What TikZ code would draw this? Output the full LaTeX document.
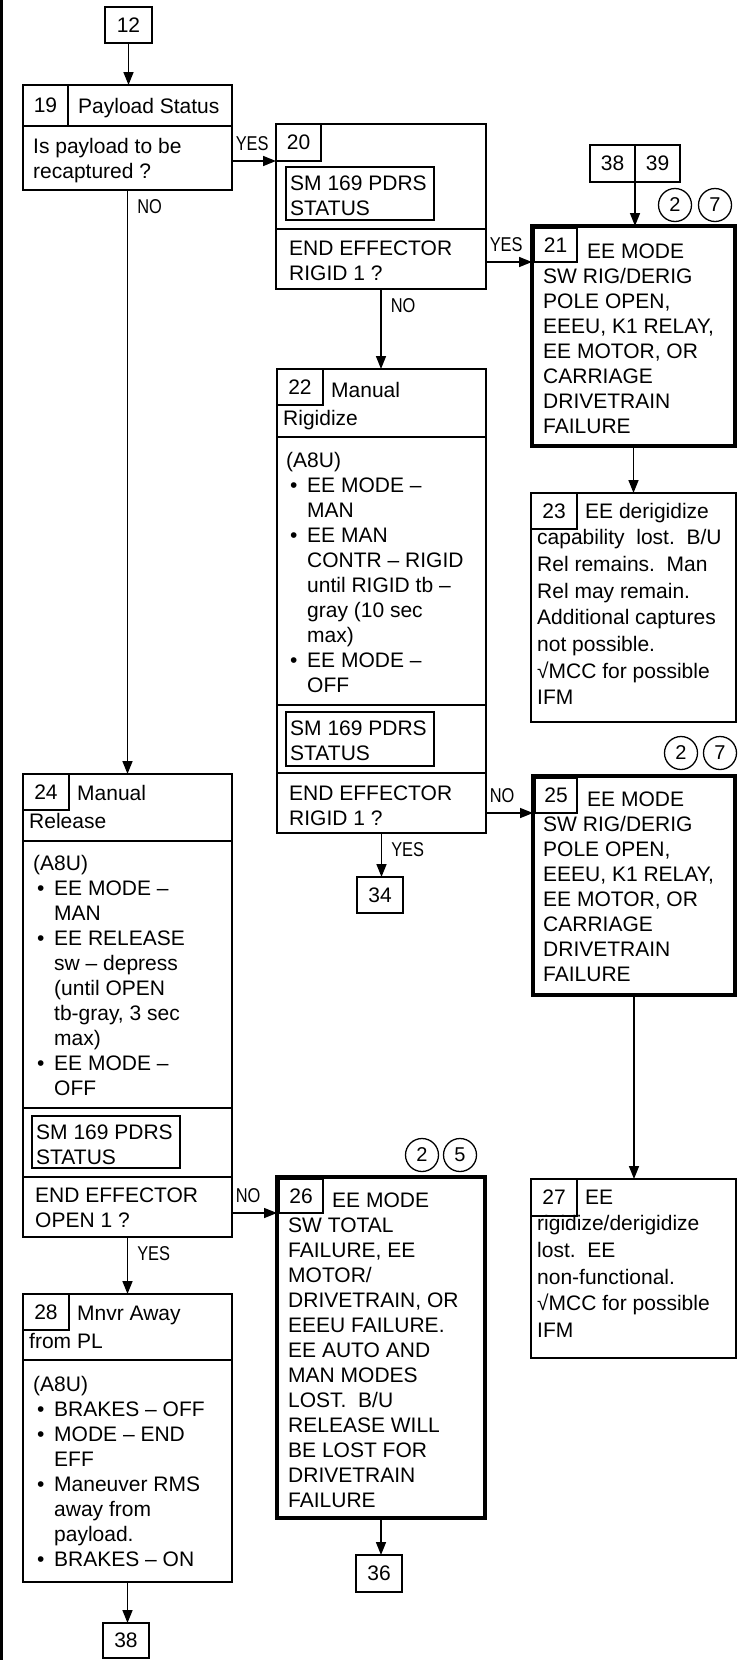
\documentclass[tikz,border=0pt]{standalone}
\usepackage{graphicx}
\usepackage{fontspec}
\setmainfont{Liberation Sans}
\usetikzlibrary{arrows.meta}

\newcommand\bitem{\hspace*{4pt}\makebox[17pt][l]{\textbullet}}
\newcommand\bcont{\hspace*{21pt}}
\newcommand\yn[1]{\scalebox{0.82}[1]{#1}}
\newcommand\textlines[1]{\begin{tabular}[t]{@{}l@{}}#1\end{tabular}}

\tikzset{
  frame/.style={draw, line width=1.5pt, inner sep=0pt, outer sep=0pt, anchor=north west,
    font=\fontsize{21}{25}\selectfont},
  heavyframe/.style={frame, line width=4pt},
  divider/.style={line width=1.5pt},
  blurb/.style={anchor=base west, inner sep=0pt, font=\fontsize{21}{25}\selectfont},
  blurbloose/.style={blurb, font=\fontsize{21}{26.7}\selectfont},
  headblurb/.style={blurb, font=\fontsize{21}{28}\selectfont},
  answer/.style={anchor=base west, inner sep=0pt, font=\fontsize{20}{20}\selectfont},
  sideans/.style={answer, xshift=3pt, yshift=11pt},
  downans/.style={answer, xshift=9pt, yshift=-23pt},
  note/.style={circle, draw, line width=1.3pt, minimum size=33pt, inner sep=0pt,
    font=\fontsize{20}{20}\selectfont},
  flow/.style={line width=1.5pt, -{Triangle[length=13pt,width=10pt]}},
}

\begin{document}
\begin{tikzpicture}[x=1pt, y=-1pt]
\useasboundingbox (0,0) rectangle (737,1660);
\draw[line width=3pt] (1.5,0) -- (1.5,1660);

% entry and payload status
\node[frame, minimum width=47pt, minimum height=36pt] (b12) at (105,7) {12};
\node[frame, minimum width=209pt, minimum height=105pt] (b19) at (23,85) {};
\node[frame, minimum width=45pt, minimum height=41pt] (n19) at (23,85) {19};
\draw[divider] (b19.west |- n19.south) -- (b19.east |- n19.south);
\node[blurb] at (78,113) {Payload Status};
\node[blurb] at (33,153) {\textlines{Is payload to be\\recaptured ?}};

% 20
\node[frame, minimum width=210pt, minimum height=165pt] (b20) at (276,124) {};
\node[frame, minimum width=45pt, minimum height=37pt] (n20) at (276,124) {20};
\node[frame, minimum width=148pt, minimum height=53pt] (s20) at (286,167) {};
\node[blurb] at (290,190) {\textlines{SM 169 PDRS\\STATUS}};
\draw[divider] (b20.west |- 0,229) -- (b20.east |- 0,229);
\node[blurb] at (289,255) {\textlines{END EFFECTOR\\RIGID 1 ?}};

% 21
\node[frame, minimum width=45pt, minimum height=37pt] (r38) at (590,145) {38};
\node[frame, minimum width=45pt, minimum height=37pt] (r39) at (635,145) {39};
\node[note] (c21a) at (675,205) {2};
\node[note] (c21b) at (715,205) {7};
\node[heavyframe, minimum width=203pt, minimum height=220pt] (b21) at (532,226) {};
\node[frame, minimum width=43pt, minimum height=34pt] (n21) at (534,228) {21};
\node[blurb] at (543,258) {\textlines{\hspace*{44pt}EE MODE\\SW RIG/DERIG\\POLE OPEN,\\EEEU, K1 RELAY,\\EE MOTOR, OR\\CARRIAGE\\DRIVETRAIN\\FAILURE}};

% 23
\node[frame, minimum width=205pt, minimum height=229pt] (b23) at (531,493) {};
\node[frame, minimum width=46pt, minimum height=36pt] (n23) at (531,493) {23};
\node[blurbloose] at (537,518) {\textlines{\hspace*{48pt}EE derigidize\\capability\ \ lost.\ \ B/U\\Rel remains.\ \ Man\\Rel may remain.\\Additional captures\\not possible.\\√MCC for possible\\IFM}};

% 22
\node[frame, minimum width=209pt, minimum height=464pt] (b22) at (277,369) {};
\node[frame, minimum width=46pt, minimum height=36pt] (n22) at (277,369) {22};
\node[headblurb] at (283,397) {\textlines{\hspace*{48pt}Manual\\Rigidize}};
\draw[divider] (b22.west |- 0,437) -- (b22.east |- 0,437);
\node[blurb] at (286,467) {\textlines{(A8U)\\\bitem EE MODE –\\\bcont MAN\\\bitem EE MAN\\\bcont CONTR – RIGID\\\bcont until RIGID tb –\\\bcont gray (10 sec\\\bcont max)\\\bitem EE MODE –\\\bcont OFF}};
\draw[divider] (b22.west |- 0,705) -- (b22.east |- 0,705);
\node[frame, minimum width=148pt, minimum height=54pt] (s22) at (286,712) {};
\node[blurb] at (290,735) {\textlines{SM 169 PDRS\\STATUS}};
\draw[divider] (b22.west |- 0,773) -- (b22.east |- 0,773);
\node[blurb] at (289,800) {\textlines{END EFFECTOR\\RIGID 1 ?}};
\node[frame, minimum width=46pt, minimum height=36pt] (b34) at (357,877) {34};

% 25
\node[note] (c25a) at (681,753) {2};
\node[note] (c25b) at (720,753) {7};
\node[heavyframe, minimum width=202pt, minimum height=219pt] (b25) at (533,776) {};
\node[frame, minimum width=42pt, minimum height=35pt] (n25) at (535,778) {25};
\node[blurb] at (543,806) {\textlines{\hspace*{44pt}EE MODE\\SW RIG/DERIG\\POLE OPEN,\\EEEU, K1 RELAY,\\EE MOTOR, OR\\CARRIAGE\\DRIVETRAIN\\FAILURE}};

% 27
\node[frame, minimum width=205pt, minimum height=179pt] (b27) at (531,1179) {};
\node[frame, minimum width=46pt, minimum height=37pt] (n27) at (531,1179) {27};
\node[blurbloose] at (537,1204) {\textlines{\hspace*{48pt}EE\\rigidize/derigidize\\lost.\ \ EE\\non-functional.\\√MCC for possible\\IFM}};

% 24
\node[frame, minimum width=209pt, minimum height=463pt] (b24) at (23,774) {};
\node[frame, minimum width=46pt, minimum height=36pt] (n24) at (23,774) {24};
\node[headblurb] at (29,800) {\textlines{\hspace*{48pt}Manual\\Release}};
\draw[divider] (b24.west |- 0,841) -- (b24.east |- 0,841);
\node[blurb] at (33,870) {\textlines{(A8U)\\\bitem EE MODE –\\\bcont MAN\\\bitem EE RELEASE\\\bcont sw – depress\\\bcont (until OPEN\\\bcont tb-gray, 3 sec\\\bcont max)\\\bitem EE MODE –\\\bcont OFF}};
\draw[divider] (b24.west |- 0,1108) -- (b24.east |- 0,1108);
\node[frame, minimum width=148pt, minimum height=52pt] (s24) at (32,1116) {};
\node[blurb] at (36,1139) {\textlines{SM 169 PDRS\\STATUS}};
\draw[divider] (b24.west |- 0,1177) -- (b24.east |- 0,1177);
\node[blurb] at (35,1202) {\textlines{END EFFECTOR\\OPEN 1 ?}};

% 26
\node[note] (c26a) at (422,1155) {2};
\node[note] (c26b) at (460,1155) {5};
\node[heavyframe, minimum width=208pt, minimum height=341pt] (b26) at (277,1177) {};
\node[frame, minimum width=44pt, minimum height=34pt] (n26) at (279,1179) {26};
\node[blurb] at (288,1207) {\textlines{\hspace*{44pt}EE MODE\\SW TOTAL\\FAILURE, EE\\MOTOR/\\DRIVETRAIN, OR\\EEEU FAILURE.\\EE AUTO AND\\MAN MODES\\LOST.\ \ B/U\\RELEASE WILL\\BE LOST FOR\\DRIVETRAIN\\FAILURE}};
\node[frame, minimum width=46pt, minimum height=37pt] (b36) at (356,1555) {36};

% 28
\node[frame, minimum width=209pt, minimum height=288pt] (b28) at (23,1294) {};
\node[frame, minimum width=46pt, minimum height=36pt] (n28) at (23,1294) {28};
\node[headblurb] at (29,1320) {\textlines{\hspace*{48pt}Mnvr Away\\from PL}};
\draw[divider] (b28.west |- 0,1360) -- (b28.east |- 0,1360);
\node[blurb] at (33,1391) {\textlines{(A8U)\\\bitem BRAKES – OFF\\\bitem MODE – END\\\bcont EFF\\\bitem Maneuver RMS\\\bcont away from\\\bcont payload.\\\bitem BRAKES – ON}};
\node[frame, minimum width=46pt, minimum height=35pt] (b38) at (103,1623) {38};

% connectors
\draw[flow] (b12.south) -- (b12.south |- b19.north);
\draw[flow] (b19.east |- n20.south) node[sideans] {\yn{YES}} -- (n20.south west);
\draw[flow] (b19.south) node[downans] {\yn{NO}} -- (b24.north);
\draw[flow] (b20.east |- n21.south) node[sideans] {\yn{YES}} -- (b21.west |- n21.south);
\draw[flow] (b20.south) node[downans] {\yn{NO}} -- (b20.south |- b22.north);
\draw[flow] (r38.south east) -- (r38.south east |- b21.north);
\draw[flow] (b21.south) -- (b23.north);
\draw[flow] (b22.south) node[downans] {\yn{YES}} -- (b22.south |- b34.north);
\draw[flow] (b22.east |- n25.south) node[sideans] {\yn{NO}} -- (b25.west |- n25.south);
\draw[flow] (b25.south) -- (b25.south |- b27.north);
\draw[flow] (b24.east |- n26.south) node[sideans] {\yn{NO}} -- (b26.west |- n26.south);
\draw[flow] (b24.south) node[downans] {\yn{YES}} -- (b28.north);
\draw[flow] (b26.south) -- (b26.south |- b36.north);
\draw[flow] (b28.south) -- (b28.south |- b38.north);
\end{tikzpicture}
\end{document}
